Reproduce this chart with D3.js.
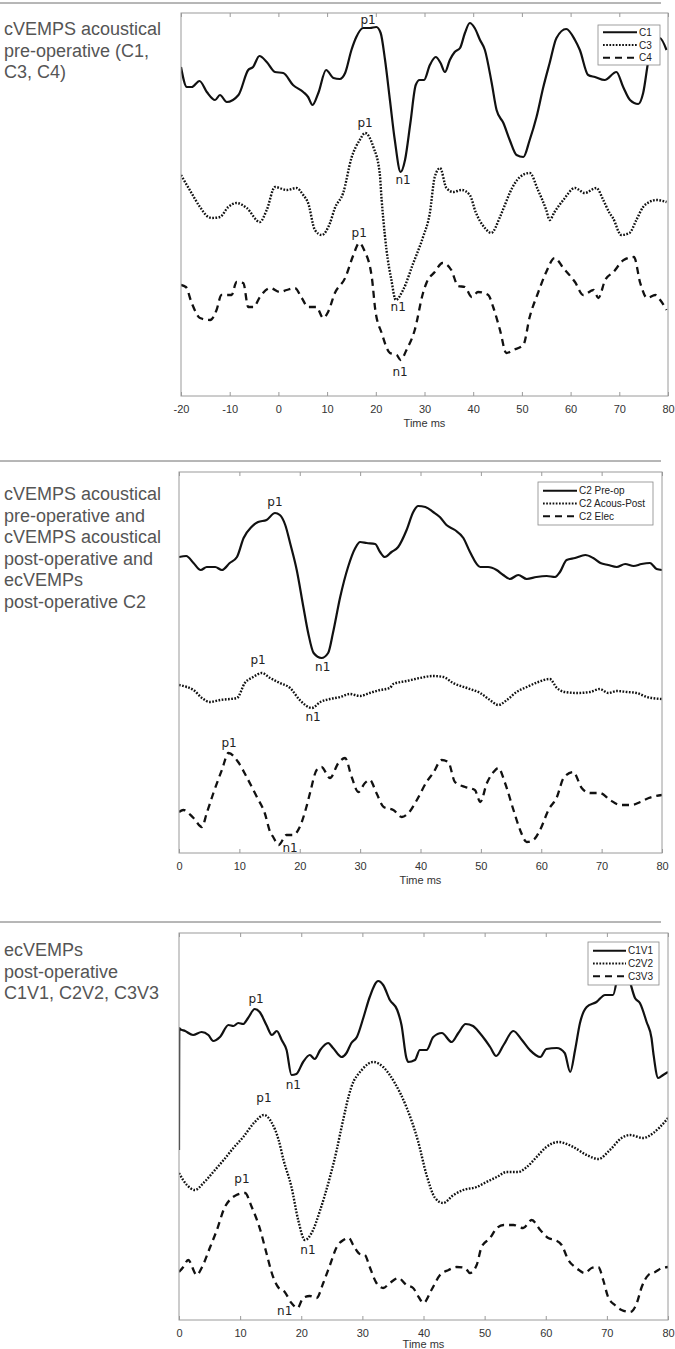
<!DOCTYPE html>
<html>
<head>
<meta charset="utf-8">
<script src="https://cdn.jsdelivr.net/npm/d3@7"></script>
<style>
  body { margin: 0; background: #fff; }
  svg { display: block; }
</style>
</head>
<body>
<script>
// ---- data (time in ms, amplitude in arbitrary units) ----
const ticksPre = [-20, -10, 0, 10, 20, 30, 40, 50, 60, 70, 80];
const ticksPost = [0, 10, 20, 30, 40, 50, 60, 70, 80];

const textPanel1 = ["cVEMPS acoustical", "pre-operative (C1,", "C3, C4)"];
const textPanel2 = ["cVEMPS acoustical", "pre-operative and", "cVEMPS acoustical",
  "post-operative and", "ecVEMPs", "post-operative C2"];
const textPanel3 = ["ecVEMPs", "post-operative", "C1V1, C2V2, C3V3"];

const namesPanel1 = ["C1", "C3", "C4"];
const namesPanel2 = ["C2 Pre-op", "C2 Acous-Post", "C2 Elec"];
const namesPanel3 = ["C1V1", "C2V2", "C3V3"];

const c1 = [[-20,32.9],[-18.8,30.9],[-17.8,30.9],[-16.2,31.5],[-14.7,30.4],[-13,29.6],[-12,30.1],
  [-10.6,29.4],[-8.2,30.1],[-6.2,32.6],[-5.2,32.9],[-3.9,34.0],[-2.4,33.4],[-0.7,32.4],[1,32.3],
  [3,31.1],[5.1,30.4],[6.1,29.9],[7,29.1],[8.2,30.3],[9.8,32.6],[11.3,31.8],[12.6,31.7],[13.7,32.3],
  [15,34.6],[16,35.9],[17.4,36.8],[18.8,36.8],[20.1,36.9],[21,36.3],[21.9,33.6],[22.9,29.6],
  [23.9,25.6],[25.1,22.4],[26,23.6],[27.1,27.3],[28.2,31.1],[29,31.6],[29.9,31.6],[31.1,33.1],
  [32.3,33.9],[33.3,33.3],[34.2,32.4],[35.2,33.6],[36.2,34.4],[37.3,34.8],[38.3,36.3],[39.3,37.3],
  [40.3,36.8],[41.4,35.6],[42.4,34.6],[43.8,31.3],[44.8,28.6],[46.2,27.3],[47.5,25.6],[48.9,24.1],
  [50.3,23.9],[51.6,25.6],[53,27.9],[54.4,30.9],[55.7,33.3],[57.1,35.8],[59.1,36.7],[60.9,35.6],
  [61.9,34.6],[63.6,32.1],[65,31.9],[67,31.6],[69.4,32.4],[70.8,30.9],[72.2,29.6],[73.9,29.2],
  [74.9,30.3],[76,33.6],[77,35.3],[78.3,35.8],[79.7,34.6]];
const c3 = [[-20,22.1],[-18.2,20.6],[-16.1,18.9],[-14.4,17.9],[-13.7,17.8],[-12,17.9],[-10.3,18.9],
  [-8.6,19.3],[-6.5,18.8],[-3.8,17.4],[-2.4,18.6],[-0.7,20.9],[1.7,20.6],[3.7,20.8],[5.1,20.1],
  [6.1,19.3],[7.5,16.6],[8.9,16.1],[10.6,17.3],[11.6,18.8],[13.3,20.3],[15,23.8],[16.7,25.6],
  [17.8,26.3],[19.5,24.9],[20.8,22.3],[21.2,19.6],[21.5,17.9],[22.2,14.6],[23.2,11.6],[24.1,9.6],
  [25.6,10.6],[27.7,13.3],[29.7,15.9],[31.1,18.3],[32.1,21.9],[33.2,22.8],[34.5,20.8],[35.9,20.4],
  [37.6,20.6],[39.3,20.1],[40.5,18.4],[42.4,16.8],[43.7,16.3],[45.5,17.9],[46.5,19.1],[47.5,20.3],
  [49.6,21.9],[51.6,22.3],[53.3,20.6],[55,18.6],[55.7,17.6],[56.7,18.4],[58.5,19.6],[60.9,20.8],
  [62.9,20.3],[65.3,20.8],[66.7,19.6],[68,18.3],[68.7,17.8],[70.4,16.1],[72.1,16.3],[73.5,17.6],
  [74.9,18.9],[76.2,19.4],[77.6,19.6],[79.7,19.4]];
const c4 = [[-20,11.1],[-19,10.9],[-17.8,9.3],[-16.1,7.8],[-14,7.6],[-12.7,8.6],[-11.7,10.1],
  [-9.6,10.1],[-8.6,11.4],[-7.2,11.3],[-6.2,8.9],[-5.1,8.9],[-3.8,9.9],[-1.7,10.8],[0.3,10.4],
  [1.7,10.6],[3.4,10.8],[4.8,9.8],[6.1,8.9],[7.8,8.9],[9.2,7.8],[10.2,8.4],[11.6,10.3],[13.7,11.8],
  [15.4,14.1],[16.6,15.3],[17.6,14.6],[19.2,11.8],[19.9,8.6],[21.2,6.3],[22.9,4.3],[24.3,4.1],
  [25.1,3.6],[26.3,4.6],[28,6.6],[29.7,10.3],[30.4,11.3],[32.1,12.4],[33.7,13.3],[35.5,12.6],
  [36.9,11.0],[38.3,10.9],[39.7,9.9],[41,10.4],[43.1,10.1],[44.1,8.9],[45.5,6.6],[46.8,4.3],
  [48.2,4.6],[50.3,5.1],[51.6,7.9],[53.3,10.3],[55,12.4],[56.7,13.8],[58.5,12.8],[60.9,11.4],
  [62.6,10.1],[64.7,10.6],[65.7,9.8],[67.1,11.6],[68.8,12.4],[70.9,13.6],[73,13.9],[74.3,11.3],
  [75.7,9.8],[77.4,10.1],[78.4,9.6],[79.7,8.6]];

const c2Pre = [[0,29.6],[1.2,29.7],[2.4,29.0],[3.6,28.3],[4.6,28.6],[6,28.6],[7.1,28.3],[8.4,29.0],
  [9.6,29.6],[10.7,31.5],[12,32.6],[13.1,33.1],[14.5,33.3],[15.9,34.0],[16.7,33.8],[17.6,32.8],
  [18.4,31.0],[19.5,28.3],[20.6,24.6],[21.4,22.0],[22.3,20.0],[23.6,19.5],[24.7,20.0],[25.5,22.0],
  [26.7,25.6],[28,28.6],[29.2,30.5],[30,31.1],[31.1,31.0],[32.5,30.9],[33.3,30.1],[34.1,29.6],
  [35.2,30.1],[36.3,30.6],[37.7,32.3],[38.8,34.1],[39.6,34.7],[40.8,34.6],[42.1,34.1],[43.2,33.6],
  [44.3,32.8],[45.7,32.3],[47.1,31.5],[48.2,30.1],[49.9,28.6],[51.2,28.6],[52.6,28.3],[53.7,27.8],
  [54.8,27.4],[56.2,27.8],[57.6,27.4],[59.2,27.6],[60.9,27.7],[62.3,27.6],[63.1,28.1],[64.2,29.3],
  [65.6,29.5],[67.3,29.8],[68.6,29.5],[69.8,29.0],[71.1,28.8],[72.5,28.6],[73.9,28.9],[75.3,28.7],
  [76.6,28.9],[78,29.0],[79.1,28.4],[80,28.3]];
const c2Post = [[0,16.8],[1.3,16.6],[2.4,16.3],[3.8,15.5],[5.1,15.1],[6.8,15.3],[9.6,15.5],
  [10.9,17.0],[12.3,17.6],[13.7,18.0],[15.1,17.5],[16.7,17.0],[18.4,16.5],[20,15.3],[22,14.5],
  [23.4,15.1],[25,15.4],[26.7,15.6],[28.3,15.9],[30,15.7],[31.6,16.0],[33.3,16.3],[34.9,16.5],
  [35.5,16.9],[37.7,17.2],[39.9,17.5],[42.1,17.7],[43.8,17.6],[45.4,17.0],[47.7,16.5],[49.9,16.0],
  [51.5,15.3],[52.9,14.8],[54.3,15.3],[55.9,16.1],[57.6,16.6],[59.5,17.1],[61.4,17.4],[62.6,16.5],
  [63.9,16.1],[65.9,16.0],[68.1,16.1],[69.7,16.4],[71.1,16.0],[72.5,16.2],[74.2,16.1],[75.8,16.0],
  [77.5,15.6],[80,15.4]];
const c2Elec = [[0,4.1],[0.7,4.3],[2.4,3.5],[3.8,2.6],[4.6,4.0],[5.7,6.0],[7.1,8.3],[8.2,10.0],
  [9.8,9.1],[11.2,7.6],[12.9,5.6],[14.2,4.0],[15.1,2.1],[15.6,1.6],[16.5,0.8],[17.8,1.8],[18.9,1.8],
  [20,2.6],[21.1,4.6],[21.7,6.0],[22.8,8.3],[23.6,8.6],[25,7.5],[26.4,9.0],[27.5,9.5],[28.6,7.6],
  [29.7,6.1],[30.8,7.0],[31.6,7.3],[32.7,6.0],[33.9,4.6],[35.5,4.3],[36.9,3.6],[38,4.0],[39.4,5.3],
  [41,7.1],[42.1,8.0],[43.5,9.3],[44.6,9.1],[45.7,7.1],[47.4,6.6],[49,6.3],[49.9,5.1],[51,7.0],
  [52.1,8.1],[52.9,8.5],[54,7.0],[55.4,4.3],[56.5,2.3],[57.6,1.1],[58.7,1.3],[59.8,2.3],[61.2,4.3],
  [62.6,5.6],[63.7,7.5],[65.3,8.1],[66.7,6.5],[68.1,6.0],[69.7,6.0],[71.4,5.3],[73.1,4.8],[75,4.8],
  [76.4,5.1],[77.8,5.5],[80,5.8]];

const c1v1 = [[0,17.0],[0.05,29.2],[0.2,29.1],[1,28.9],[2.3,28.5],[3.7,28.8],[4.8,28.5],[5.6,27.9],
  [6.7,28.3],[8.1,29.5],[8.9,29.4],[9.7,29.7],[10.5,29.6],[11.3,30.2],[12.4,31.1],[13.2,30.8],
  [14.3,29.5],[15.2,28.5],[16,28.9],[16.8,28.0],[17.6,27.0],[18.4,24.5],[19.2,24.6],[20.3,25.8],
  [21.4,26.5],[22.2,26.1],[23.1,27.0],[24.4,27.7],[25.2,27.2],[26.6,26.3],[27.4,26.7],[28.2,27.7],
  [29.1,28.3],[30.2,30.3],[31.2,32.3],[32.6,33.9],[33.4,33.5],[34.5,32.0],[35.7,31.0],[36.4,29.5],
  [37.2,26.2],[37.5,25.8],[38.6,26.0],[39.4,27.0],[40.5,27.0],[41.6,28.3],[43,28.7],[44.6,27.8],
  [45.7,28.7],[46.9,29.6],[48.1,29.4],[49.2,28.7],[50.1,28.0],[50.9,27.3],[51.9,26.4],[53.1,27.5],
  [54.7,28.9],[56.1,28.0],[57.4,27.0],[59.1,26.3],[60.1,27.1],[61.8,27.2],[63.1,26.7],[64,24.8],
  [64.8,27.0],[65.6,29.7],[66.7,31.3],[68.3,31.8],[69.7,32.5],[71,32.5],[71.9,34.8],[72.8,36.2],
  [73.8,33.8],[74.6,32.2],[75.4,31.7],[76.5,29.8],[77.3,28.2],[77.6,26.7],[78.4,24.2],[79.2,24.5],
  [80,24.8]];
const c2v2 = [[0,14.7],[1.3,13.5],[2.6,13.0],[4,13.7],[5.6,14.8],[7.3,16.0],[8.9,17.2],[10.5,18.3],
  [12.4,19.8],[13.9,20.5],[15.2,19.7],[16.3,18.0],[17.1,16.0],[18.4,13.3],[19.5,10.0],[20.6,8.0],
  [21.7,8.7],[23.1,11.0],[24.7,14.3],[25.8,17.0],[26.6,19.3],[28.2,23.3],[29.9,25.0],[31.8,25.8],
  [33.4,25.3],[35.3,23.7],[37.2,21.3],[39.1,17.9],[40.5,14.5],[41.9,12.2],[43.2,11.7],[44.9,12.5],
  [46.5,13.0],[48.7,13.3],[50.3,13.8],[52,14.3],[53.6,14.8],[55.5,14.8],[56.9,15.3],[58.5,16.3],
  [60.1,17.3],[62.1,17.8],[64.5,17.3],[66.7,16.5],[68.6,16.1],[70.5,17.0],[72.4,18.2],[73.8,18.5],
  [75.9,18.2],[77.6,18.7],[78.7,19.3],[80,20.2]];
const c3v3 = [[0,4.8],[0.7,5.3],[1.5,6.0],[2.9,4.5],[3.7,5.2],[5.1,7.3],[6.2,9.0],[7.5,11.3],
  [8.3,12.0],[9.4,12.5],[10.8,12.7],[11.9,11.3],[13.3,9.0],[14.3,6.7],[15.4,4.3],[16.2,3.3],
  [17.3,2.8],[18.4,1.7],[19.4,1.2],[20.3,2.2],[21.4,2.4],[22.5,2.2],[23.6,3.7],[24.7,5.5],[25.8,7.3],
  [26.9,8.0],[27.8,8.2],[28.5,7.5],[29.6,6.6],[30.4,6.5],[31.2,5.3],[32.3,3.7],[33.4,3.2],[34.5,3.7],
  [35.9,4.2],[37.2,3.5],[38.3,3.2],[39.2,2.3],[40,1.7],[41.3,3.0],[42.7,4.5],[44.1,5.0],[45.4,5.3],
  [46.8,5.2],[47.6,4.7],[48.7,5.5],[49.5,7.3],[50.9,8.2],[52,9.2],[53.1,9.5],[54.7,9.5],[56.3,9.2],
  [57.7,10.0],[59.1,9.0],[60.4,8.2],[61.5,8.0],[62.6,7.5],[63.7,6.0],[65,5.2],[66.4,4.7],[67.5,5.2],
  [68.6,5.3],[69.4,4.0],[70.2,2.3],[71.3,1.5],[72.4,1.0],[73.8,0.8],[74.9,1.7],[75.7,3.3],
  [76.8,4.5],[77.9,4.8],[79,5.2],[80,5.3]];

// peak labels: [text, time, amplitude]
const peaksPanel1 = [["p1",18.4,37.6],["n1",25.6,21.6],["p1",17.8,27.3],["n1",24.6,8.9],
  ["p1",16.6,16.3],["n1",25.0,2.4]];
const peaksPanel2 = [["p1",15.9,35.1],["n1",23.8,18.6],["p1",13.1,19.3],["n1",22.2,13.6],
  ["p1",8.3,11.0],["n1",18.4,0.5]];
const peaksPanel3 = [["p1",12.6,32.1],["n1",18.7,23.5],["p1",13.9,22.2],["n1",21.1,7.0],
  ["p1",10.3,14.1],["n1",17.3,0.9]];

// ---- drawing ----
const width = 675;
const height = 1349;

const svg = d3.select("body").append("svg")
  .attr("width", width)
  .attr("height", height)
  .style("background", "#fff");

// solid, dotted, dashed
const lineStyles = [
  { dash: null, w: 2.2 },
  { dash: "1.7,1.5", w: 2.4 },
  { dash: "7,5", w: 2.3 }
];

const panels = [
  { rule: 3, top: 13, bottom: 396, left: 181, right: 668, xDomain: [-20, 80], yMax: 38.3,
    ticks: ticksPre, text: textPanel1, textY: 35, names: namesPanel1, series: [c1, c3, c4],
    peaks: peaksPanel1, legend: { x: 598, y: 25, w: 62, h: 40, line: 34 } },
  { rule: 461, top: 472, bottom: 853, left: 179, right: 662, xDomain: [0, 80], yMax: 38.1,
    ticks: ticksPost, text: textPanel2, textY: 500, names: namesPanel2, series: [c2Pre, c2Post, c2Elec],
    peaks: peaksPanel2, legend: { x: 538, y: 482, w: 115, h: 43, line: 34 } },
  { rule: 922, top: 933, bottom: 1320, left: 179, right: 668, xDomain: [0, 80], yMax: 38.7,
    ticks: ticksPost, text: textPanel3, textY: 956, names: namesPanel3, series: [c1v1, c2v2, c3v3],
    peaks: peaksPanel3, legend: { x: 588, y: 942, w: 71, h: 43, line: 33 } }
];

panels.forEach(function(p, i) {
  const x = d3.scaleLinear().domain(p.xDomain).range([p.left, p.right]);
  const y = d3.scaleLinear().domain([0, p.yMax]).range([p.bottom, p.top]);

  // separator rule
  svg.append("line")
    .attr("x1", 0).attr("x2", 661)
    .attr("y1", p.rule).attr("y2", p.rule)
    .attr("stroke", "#6e6e6e")
    .attr("stroke-width", 1);

  // description on the left
  svg.append("text")
    .attr("font-family", "Liberation Sans, Arial, sans-serif")
    .attr("font-size", 18)
    .attr("fill", "#555")
    .selectAll("tspan")
    .data(p.text)
    .enter().append("tspan")
      .attr("x", 4)
      .attr("y", (d, k) => p.textY + k * 21.5)
      .text(d => d);

  const clipId = "clip" + i;
  svg.append("clipPath").attr("id", clipId)
    .append("rect")
      .attr("x", p.left).attr("y", p.top)
      .attr("width", p.right - p.left).attr("height", p.bottom - p.top);

  // traces
  const line = d3.line()
    .x(d => x(d[0]))
    .y(d => y(d[1]))
    .curve(d3.curveMonotoneX);

  svg.append("g")
    .attr("clip-path", "url(#" + clipId + ")")
    .selectAll("path")
    .data(p.series)
    .enter().append("path")
      .attr("d", line)
      .attr("fill", "none")
      .attr("stroke", "#111")
      .attr("stroke-width", (d, k) => lineStyles[k].w)
      .attr("stroke-dasharray", (d, k) => lineStyles[k].dash)
      .attr("stroke-linejoin", "round");

  // box and ticks
  svg.append("rect")
    .attr("x", p.left).attr("y", p.top)
    .attr("width", p.right - p.left).attr("height", p.bottom - p.top)
    .attr("fill", "none")
    .attr("stroke", "#9a9a9a")
    .attr("stroke-width", 1);

  const bottomAxis = svg.append("g")
    .attr("transform", "translate(0," + p.bottom + ")")
    .call(d3.axisBottom(x).tickValues(p.ticks).tickSize(-4).tickPadding(9)
      .tickFormat(d => String(d)));
  const topAxis = svg.append("g")
    .attr("transform", "translate(0," + p.top + ")")
    .call(d3.axisTop(x).tickValues(p.ticks).tickSize(-4).tickFormat(""));

  [bottomAxis, topAxis].forEach(function(a) {
    a.select(".domain").remove();
    a.selectAll(".tick line").attr("stroke", "#9a9a9a");
  });
  bottomAxis.selectAll(".tick text")
    .attr("font-family", "Liberation Sans, Arial, sans-serif")
    .attr("font-size", 11)
    .attr("fill", "#333");

  svg.append("text")
    .attr("x", (p.left + p.right) / 2)
    .attr("y", Math.min(p.bottom + 31, height - 1))
    .attr("text-anchor", "middle")
    .attr("font-family", "Liberation Sans, Arial, sans-serif")
    .attr("font-size", 11)
    .attr("fill", "#333")
    .text("Time ms");

  // peak labels
  svg.append("g")
    .selectAll("text")
    .data(p.peaks)
    .enter().append("text")
      .attr("x", d => x(d[1]))
      .attr("y", d => y(d[2]))
      .attr("dy", "0.35em")
      .attr("text-anchor", "middle")
      .attr("font-family", "DejaVu Sans, sans-serif")
      .attr("font-size", 12)
      .attr("fill", "#222")
      .text(d => d[0]);

  // legend
  const lg = p.legend;
  const legend = svg.append("g").attr("transform", "translate(" + lg.x + "," + lg.y + ")");
  legend.append("rect")
    .attr("width", lg.w).attr("height", lg.h)
    .attr("fill", "#fff")
    .attr("stroke", "#888")
    .attr("stroke-width", 0.8);
  const rows = legend.selectAll("g.row")
    .data(p.names)
    .enter().append("g")
      .attr("class", "row")
      .attr("transform", (d, k) => "translate(5," + (lg.h / 2 + (k - 1) * 12.7) + ")");
  rows.append("line")
    .attr("x1", 0).attr("x2", lg.line)
    .attr("stroke", "#111")
    .attr("stroke-width", (d, k) => lineStyles[k].w * 0.9)
    .attr("stroke-dasharray", (d, k) => lineStyles[k].dash);
  rows.append("text")
    .attr("x", lg.line + 2)
    .attr("dy", "0.35em")
    .attr("font-family", "Liberation Sans, Arial, sans-serif")
    .attr("font-size", 10)
    .attr("fill", "#222")
    .text(d => d);
});
</script>
</body>
</html>
